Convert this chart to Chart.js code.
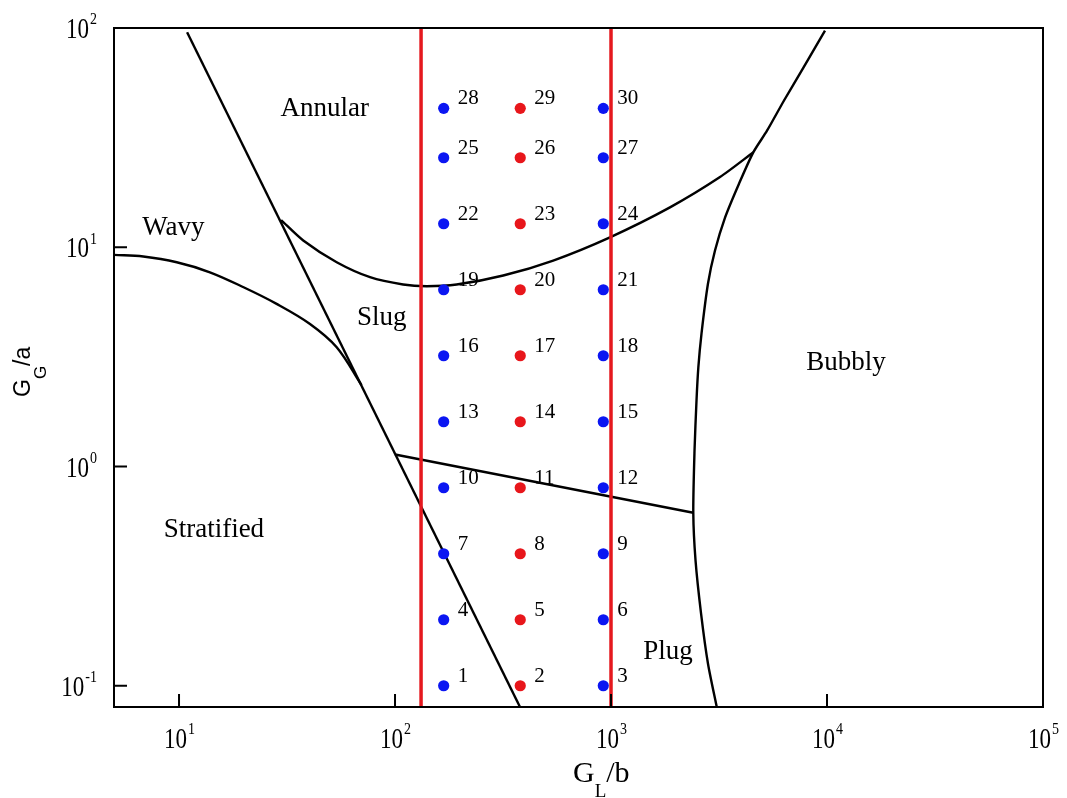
<!DOCTYPE html>
<html>
<head>
<meta charset="utf-8">
<script src="https://cdn.jsdelivr.net/npm/chart.js@4.4.0/dist/chart.umd.min.js"></script>
<style>
  body { margin: 0; background: #fff; }
  canvas { display: block; }
</style>
</head>
<body>
<canvas id="flowMap" width="1067" height="798"></canvas>
<script>
// test matrix: liquid flux columns (GL/b) and gas flux rows (GG/a)
const glColumns = [168, 380, 921];
const ggRows = [0.1, 0.2, 0.4, 0.8, 1.6, 3.2, 6.4, 12.8, 25.6, 43];
const columnColors = ["#0b16f2", "#e8161b", "#0b16f2"];

// flow pattern boundaries, pairs of [GL/b, GG/a]
const slugDiagonal = [[10.9, 95.6], [379, 0.08]];
const wavyStratified = [[5, 9.23], [6.83, 9.07], [9.76, 8.54], [13.9, 7.69], [19.9, 6.57],
  [28.3, 5.52], [40.4, 4.47], [53.7, 3.5], [70, 2.35]];
const annularSlug = [[29.7, 13.3], [37.6, 10.73], [53.7, 8.54], [76.6, 7.3], [109, 6.76],
  [140, 6.64], [193, 6.76], [317, 7.43], [540, 8.7], [989, 11.1], [1875, 15.2],
  [3196, 20.9], [4558, 27.1]];
const plugSlug = [[100, 1.134], [2404, 0.615]];
const bubblyEdge = [[9788, 97.3], [7826, 66.7], [6324, 46.7], [5276, 34.0], [4558, 27.1],
  [3914, 19.5], [3372, 13.66], [3030, 9.66], [2812, 6.83], [2624, 4.04], [2537, 2.83],
  [2488, 2.0], [2436, 1.183], [2404, 0.615], [2462, 0.373], [2611, 0.214],
  [2812, 0.126], [3087, 0.08]];
const redLineX = [132, 1000];

const regionNames = ["Annular", "Wavy", "Slug", "Bubbly", "Stratified", "Plug"];
const regionSpots = [[47.3, 42.9], [9.41, 12.3], [86.8, 4.78], [12250, 2.98], [14.5, 0.516], [1836, 0.143]];

const xTickValues = [10, 100, 1000, 10000, 100000];
const yTickValues = [0.1, 1, 10, 100];

const serif = "'Liberation Serif', 'Times New Roman', serif";
const sans = "'Liberation Sans', Arial, sans-serif";

const toXY = arr => arr.map(p => ({ x: p[0], y: p[1] }));

let testPoints = [], testColors = [];
ggRows.forEach(gg => {
  glColumns.forEach((gl, c) => {
    testPoints.push({ x: gl, y: gg });
    testColors.push(columnColors[c]);
  });
});

function boundary(data, tension) {
  return {
    data: toXY(data), showLine: true, borderColor: "#000", borderWidth: 2.4,
    pointRadius: 0, tension: tension, fill: false, order: 2
  };
}

let datasets = [
  { data: testPoints, pointRadius: 5.6, pointBackgroundColor: testColors,
    pointBorderWidth: 0, showLine: false, order: 0 }
];
redLineX.forEach(x => {
  datasets.push({ data: [{ x: x, y: 0.08 }, { x: x, y: 100 }], showLine: true,
    borderColor: "#e5181e", borderWidth: 3.5, pointRadius: 0, order: 1 });
});
datasets.push(boundary(slugDiagonal, 0));
datasets.push(boundary(wavyStratified, 0.35));
datasets.push(boundary(annularSlug, 0.25));
datasets.push(boundary(plugSlug, 0));
datasets.push(boundary(bubblyEdge, 0.25));

const mapDecor = {
  id: "mapDecor",
  afterDatasetsDraw(chart) {
    const ctx = chart.ctx;
    const { left, right, top, bottom } = chart.chartArea;
    const xs = chart.scales.x, ys = chart.scales.y;
    ctx.save();
    ctx.fillStyle = "#000";
    ctx.strokeStyle = "#000";

    // numbers beside test points
    ctx.font = "21px " + serif;
    ctx.textAlign = "left";
    ctx.textBaseline = "alphabetic";
    chart.getDatasetMeta(0).data.forEach((pt, i) => {
      ctx.fillText(String(i + 1), pt.x + 14, pt.y - 4);
    });

    // region names
    ctx.font = "27px " + serif;
    ctx.textAlign = "center";
    ctx.textBaseline = "middle";
    regionNames.forEach((name, i) => {
      ctx.fillText(name, xs.getPixelForValue(regionSpots[i][0]), ys.getPixelForValue(regionSpots[i][1]));
    });

    // frame and inward ticks
    ctx.lineWidth = 2;
    ctx.strokeRect(left, top, right - left, bottom - top);
    ctx.beginPath();
    xTickValues.forEach(v => {
      const px = xs.getPixelForValue(v);
      ctx.moveTo(px, bottom); ctx.lineTo(px, bottom - 13);
    });
    yTickValues.forEach(v => {
      const py = ys.getPixelForValue(v);
      ctx.moveTo(left, py); ctx.lineTo(left + 13, py);
    });
    ctx.stroke();

    // tick labels 10^n, slightly tall type as in the source figure
    ctx.textAlign = "left";
    ctx.textBaseline = "alphabetic";
    const drawPow = (v, cx, baseY, align) => {
      const exp = String(Math.round(Math.log10(v)));
      ctx.font = "23px " + serif;
      const wb = ctx.measureText("10").width;
      ctx.font = "14px " + serif;
      const we = ctx.measureText(exp).width;
      const x0 = align === "center" ? cx - (wb + we) / 2 : cx - wb - we;
      ctx.save();
      ctx.translate(x0, baseY);
      ctx.scale(1, 1.25);
      ctx.font = "23px " + serif;
      ctx.fillText("10", 0, 0);
      ctx.font = "14px " + serif;
      ctx.fillText(exp, wb + 1, -11);
      ctx.restore();
    };
    xTickValues.forEach(v => drawPow(v, xs.getPixelForValue(v), bottom + 41, "center"));
    yTickValues.forEach(v => drawPow(v, left - 18, ys.getPixelForValue(v) + 10, "right"));

    // x title G_L/b
    let tx = 573;
    ctx.font = "30px " + serif;
    ctx.fillText("G", tx, 782);
    tx += ctx.measureText("G").width;
    ctx.font = "19px " + serif;
    ctx.fillText("L", tx, 797);
    tx += ctx.measureText("L").width;
    ctx.font = "30px " + serif;
    ctx.fillText("/b", tx, 782);

    // y title G_G/a, rotated
    ctx.translate(30, 397);
    ctx.rotate(-Math.PI / 2);
    ctx.font = "23px " + sans;
    ctx.fillText("G", 0, 0);
    let ty = ctx.measureText("G").width;
    ctx.font = "17px " + sans;
    ctx.fillText("G", ty, 16);
    ty += ctx.measureText("G").width;
    ctx.font = "23px " + sans;
    ctx.fillText("/a", ty, 0);

    ctx.restore();
  }
};

new Chart(document.getElementById("flowMap"), {
  type: "scatter",
  data: { datasets: datasets },
  options: {
    responsive: false,
    animation: false,
    events: [],
    devicePixelRatio: 1,
    layout: { padding: { left: 114, right: 24, top: 28, bottom: 91 } },
    plugins: { legend: { display: false }, tooltip: { enabled: false } },
    scales: {
      x: { type: "logarithmic", min: 5, max: 100000, display: false },
      y: { type: "logarithmic", min: 0.08, max: 100, display: false }
    }
  },
  plugins: [mapDecor]
});
</script>
</body>
</html>
